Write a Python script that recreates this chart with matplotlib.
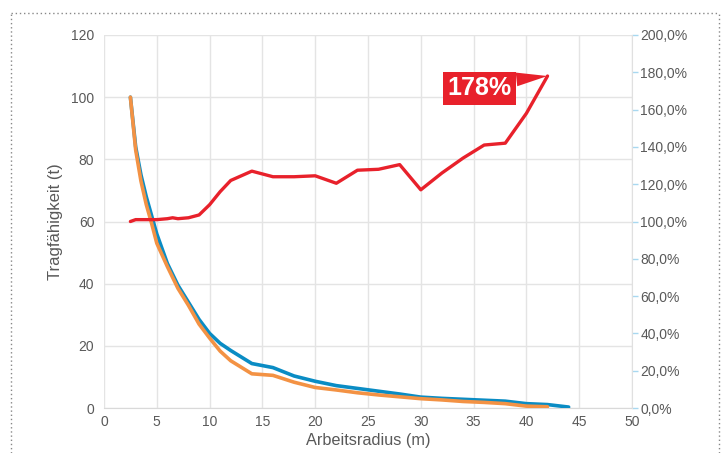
import matplotlib
matplotlib.use("Agg")
import matplotlib.pyplot as plt
from matplotlib.lines import Line2D
from matplotlib.ticker import FuncFormatter

plt.rcParams['font.family'] = ['Liberation Sans', 'DejaVu Sans']

# Tragfähigkeit (t) über Arbeitsradius (m)
radius_blue = [2.5, 3, 3.5, 4, 4.5, 5, 6, 7, 8, 9, 10, 11, 12, 14, 16, 18, 20,
               22, 24, 26, 28, 30, 32, 34, 36, 38, 40, 42, 44]
load_blue = [100, 84, 75, 68, 62, 56, 46.5, 39.5, 34, 28.5, 24, 20.8, 18.5, 14.3, 13.0,
             10.3, 8.6, 7.2, 6.3, 5.4, 4.5, 3.5, 3.1, 2.8, 2.5, 2.2, 1.4, 1.1, 0.3]

radius_orange = [2.5, 3, 3.5, 4, 4.5, 5, 6, 7, 8, 9, 10, 11, 12, 14, 16, 18, 20,
                 22, 24, 26, 28, 30, 32, 34, 36, 38, 40, 42]
load_orange = [100, 83, 73, 65.5, 59.5, 53, 45.5, 38.5, 33, 27, 22.5, 18.3, 15.2, 11.0,
               10.5, 8.3, 6.6, 5.8, 4.9, 4.2, 3.6, 3.0, 2.6, 2.1, 1.8, 1.4, 0.6, 0.4]

radius_red = [2.5, 3, 4, 5, 6, 6.5, 7, 8, 9, 10, 11, 12, 14, 16, 18, 20, 22, 24,
              26, 28, 30, 32, 34, 36, 38, 40, 42]
pct_red = [100, 101, 101, 101, 101.5, 102, 101.5, 102, 103.5, 109, 116, 122, 127,
           124, 124, 124.5, 120.5, 127.5, 128, 130.5, 117, 126, 134, 141, 142, 158, 178]

x_ticks = [0, 5, 10, 15, 20, 25, 30, 35, 40, 45, 50]
y_ticks = [0, 20, 40, 60, 80, 100, 120]
pct_ticks = [0, 20, 40, 60, 80, 100, 120, 140, 160, 180, 200]

label_color = '#595959'
grid_color = '#e4e4e4'

fig = plt.figure(figsize=(7.21, 4.53), dpi=100)
ax = fig.add_axes([104 / 721, 1 - 408 / 453, 528 / 721, 373 / 453])
ax2 = ax.twinx()

ax.set_xlim(0, 50)
ax.set_ylim(0, 120)
ax2.set_ylim(0, 200)
ax.set_xticks(x_ticks)
ax.set_yticks(y_ticks)
ax2.set_yticks(pct_ticks)
ax2.yaxis.set_major_formatter(FuncFormatter(lambda v, p: f"{v:.1f}%".replace('.', ',')))

ax.grid(True, color=grid_color, lw=1)
ax.set_axisbelow(True)
for s in ['top', 'left']:
    ax.spines[s].set_visible(False)
    ax2.spines[s].set_visible(False)
ax.spines['bottom'].set_color('#d9d9d9')
ax2.spines['bottom'].set_visible(False)
ax2.spines['right'].set_color('#e0e0e0')
ax.spines['right'].set_visible(False)

ax.tick_params(axis='both', length=0, labelsize=10, labelcolor=label_color, pad=7)
ax.tick_params(axis='x', pad=5)
ax2.tick_params(axis='y', length=4, width=1, color='#a8d8f0', labelsize=10,
                labelcolor=label_color, pad=2)

ax.plot(radius_blue, load_blue, color='#0a8cc4', lw=2.6, solid_capstyle='round', zorder=3)
ax.plot(radius_orange, load_orange, color='#f39244', lw=2.6, solid_capstyle='round', zorder=4)
ax2.plot(radius_red, pct_red, color='#e8212b', lw=2.4, solid_capstyle='round', zorder=5)

ax2.annotate('178%', xy=(radius_red[-1], pct_red[-1]), xytext=(35.6, 171.5),
             textcoords='data', ha='center', va='center', color='white',
             fontsize=18, fontweight='bold',
             bbox=dict(boxstyle='square,pad=0.18', fc='#e8212b', ec='none'),
             arrowprops=dict(arrowstyle='wedge,tail_width=0.55,shrink_factor=0.5',
                             fc='#e8212b', ec='none', shrinkA=0, shrinkB=0,
                             relpos=(0.85, 0.8), connectionstyle='arc3'))

ax.set_xlabel('Arbeitsradius (m)', fontsize=11.7, color=label_color, labelpad=3)
ax.set_ylabel('Tragfähigkeit (t)', fontsize=12, color=label_color, labelpad=6)

# gepunkteter Rahmen
for xs, ys in [([11 / 721, 719 / 721], [1 - 13 / 453, 1 - 13 / 453]),
               ([11 / 721, 11 / 721], [0, 1 - 13 / 453]),
               ([719 / 721, 719 / 721], [0, 1 - 13 / 453])]:
    fig.add_artist(Line2D(xs, ys, transform=fig.transFigure, color='#888888',
                          lw=1, ls=(0, (1, 2))))

fig.savefig('out.png', dpi=100)
